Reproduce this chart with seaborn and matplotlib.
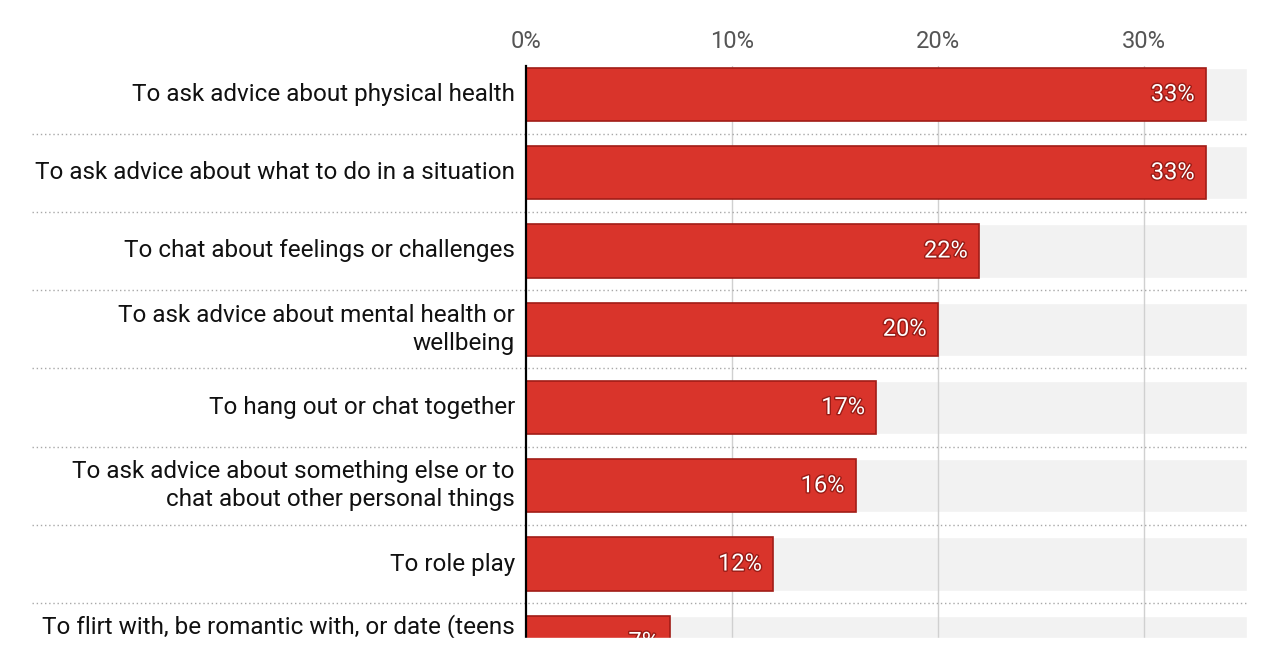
import pandas as pd
import seaborn as sns
import matplotlib.pyplot as plt
import matplotlib.patheffects as pe
from matplotlib.patches import Rectangle

# ----- Data ----- #
categories = [
    "To ask advice about physical health",
    "To ask advice about what to do in a situation",
    "To chat about feelings or challenges",
    "To ask advice about mental health or\nwellbeing",
    "To hang out or chat together",
    "To ask advice about something else or to\nchat about other personal things",
    "To role play",
    "To flirt with, be romantic with, or date (teens\nonly)",
]
shares = [33, 33, 22, 20, 17, 16, 12, 7]
x_ticks = [0, 10, 20, 30]
x_max = 35

df = pd.DataFrame({"label": categories, "share": shares})
df["track"] = x_max

sns.set_style("white")
plt.rcParams["font.family"] = ["Roboto", "DejaVu Sans"]

fig = plt.figure(figsize=(12.8, 6.7), dpi=100)
ax = fig.add_axes([526 / 1280, 0.0, 721 / 1280, 1 - 66 / 670])

# grey track behind each bar
sns.barplot(data=df, x="track", y="label", color="#f2f2f2", saturation=1,
            width=0.68, ax=ax, zorder=0.5)
# red value bars
sns.barplot(data=df, x="share", y="label", color="#d9342b", saturation=1,
            edgecolor="#a11d17", linewidth=1.2, width=0.68, ax=ax, zorder=2)

for v in x_ticks[1:]:
    ax.axvline(v, color="#d0d0d0", lw=1, zorder=1)

# dotted separators between rows
for i in range(len(categories) - 1):
    ax.axhline(i + 0.5, xmin=-494 / 721, xmax=1, color="#a8a8a8",
               ls=(0, (1, 2)), lw=1, clip_on=False, zorder=1.5)

# value labels
for i, v in enumerate(shares):
    ax.annotate(f"{v}%", (v, i), xytext=(-8, 0), textcoords="offset points",
                ha="right", va="center", color="white", fontsize=17, zorder=3,
                path_effects=[pe.withStroke(linewidth=2, foreground="#9a1c16")])

ax.set_xlim(0, x_max)
ax.set_ylim((670 - 94.5) / 78.25, (66 - 94.5) / 78.25)

ax.xaxis.tick_top()
ax.set_xticks(x_ticks)
ax.set_xticklabels([f"{v}%" for v in x_ticks])
ax.tick_params(axis="x", length=0, pad=9, labelsize=17, labelcolor="#555555")
ax.tick_params(axis="y", length=0, pad=8, labelsize=17.5, labelcolor="#111111")
for lbl in ax.get_yticklabels():
    lbl.set_verticalalignment("center")
    lbl.set_linespacing(1.3)
ax.set_xlabel("")
ax.set_ylabel("")

for side in ["top", "right", "bottom"]:
    ax.spines[side].set_visible(False)
ax.spines["left"].set_color("black")
ax.spines["left"].set_linewidth(1.6)
ax.spines["left"].set_zorder(4)

# picture is cut off at the bottom
fig.add_artist(Rectangle((0, 0), 1, 32 / 670, transform=fig.transFigure,
                         color="white", zorder=10))

fig.savefig("out.png", dpi=100)
